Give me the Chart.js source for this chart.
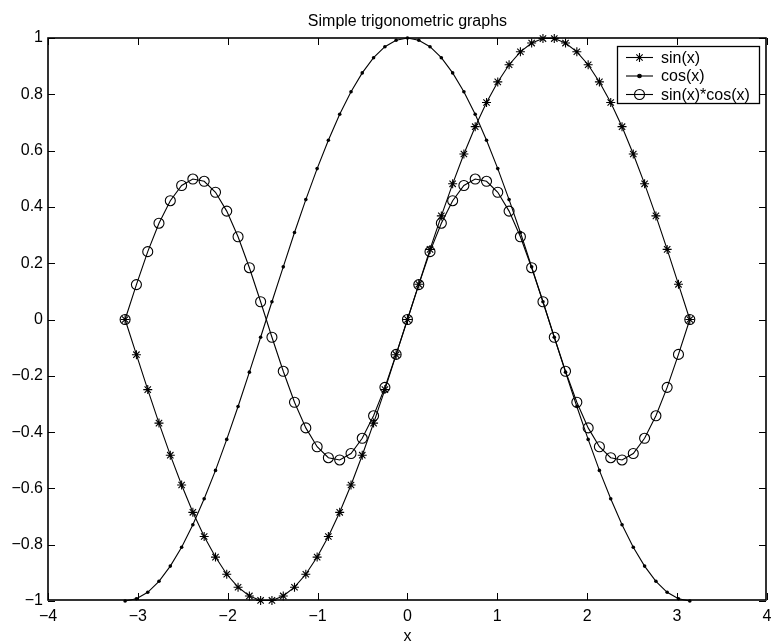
<!DOCTYPE html>
<html>
<head>
<meta charset="utf-8">
<script src="https://cdn.jsdelivr.net/npm/chart.js@4.4.0/dist/chart.umd.min.js"></script>
<style>
  html, body { margin: 0; padding: 0; background: #fff; }
  canvas { display: block; }
</style>
</head>
<body>
<canvas id="trigChart" width="773" height="641"></canvas>
<script>
// sample points, -pi..pi in 51 steps
const xVals = [-3.142,-3.016,-2.890,-2.765,-2.639,-2.513,-2.388,-2.262,-2.136,-2.011,-1.885,-1.759,-1.634,-1.508,-1.382,-1.257,-1.131,-1.005,-0.880,-0.754,-0.628,-0.503,-0.377,-0.251,-0.126,0,
  0.126,0.251,0.377,0.503,0.628,0.754,0.880,1.005,1.131,1.257,1.382,1.508,1.634,1.759,1.885,2.011,2.136,2.262,2.388,2.513,2.639,2.765,2.890,3.016,3.142];

const sinVals = [0,-0.125,-0.249,-0.368,-0.482,-0.588,-0.685,-0.771,-0.844,-0.905,-0.951,-0.982,-0.998,-0.998,-0.982,-0.951,-0.905,-0.844,-0.771,-0.685,-0.588,-0.482,-0.368,-0.249,-0.125,0,
  0.125,0.249,0.368,0.482,0.588,0.685,0.771,0.844,0.905,0.951,0.982,0.998,0.998,0.982,0.951,0.905,0.844,0.771,0.685,0.588,0.482,0.368,0.249,0.125,0];

const cosVals = [-1,-0.992,-0.969,-0.930,-0.876,-0.809,-0.729,-0.637,-0.536,-0.426,-0.309,-0.187,-0.063,0.063,0.187,0.309,0.426,0.536,0.637,0.729,0.809,0.876,0.930,0.969,0.992,1,
  0.992,0.969,0.930,0.876,0.809,0.729,0.637,0.536,0.426,0.309,0.187,0.063,-0.063,-0.187,-0.309,-0.426,-0.536,-0.637,-0.729,-0.809,-0.876,-0.930,-0.969,-0.992,-1];

const sinCosVals = [0,0.124,0.241,0.342,0.422,0.476,0.499,0.491,0.452,0.385,0.294,0.184,0.063,-0.063,-0.184,-0.294,-0.385,-0.452,-0.491,-0.499,-0.476,-0.422,-0.342,-0.241,-0.124,0,
  0.124,0.241,0.342,0.422,0.476,0.499,0.491,0.452,0.385,0.294,0.184,0.063,-0.063,-0.184,-0.294,-0.385,-0.452,-0.491,-0.499,-0.476,-0.422,-0.342,-0.241,-0.124,0];

const xTicks = [-4, -3, -2, -1, 0, 1, 2, 3, 4];
const yTicks = [-1, -0.8, -0.6, -0.4, -0.2, 0, 0.2, 0.4, 0.6, 0.8, 1];
const seriesNames = ['sin(x)', 'cos(x)', 'sin(x)*cos(x)'];
const chartTitle = 'Simple trigonometric graphs';
const xLabel = 'x';

const FONT = '"Liberation Sans", Arial, Helvetica, sans-serif';

function toPoints(ys) {
  return xVals.map((x, i) => ({ x: x, y: ys[i] }));
}

// matlab style minus sign on tick labels
function fmtTick(v) {
  const r = Math.round(v * 10) / 10;
  return r < 0 ? '\u2212' + String(-r) : String(r);
}

function drawMarker(ctx, style, radius, x, y, fill) {
  ctx.fillStyle = fill;
  if (Chart.helpers && Chart.helpers.drawPoint) {
    Chart.helpers.drawPoint(ctx, { pointStyle: style, radius: radius, rotation: 0, borderWidth: 1 }, x, y);
  }
}

// box, inward ticks, title and legend
const matlabFrame = {
  id: 'matlabFrame',
  afterDatasetsDraw(chart) {
    const { ctx, chartArea: a, scales: { x, y } } = chart;
    const L = Math.round(a.left), R = Math.round(a.right) - 1;
    const T = Math.round(a.top), B = Math.round(a.bottom) - 1;
    ctx.save();
    ctx.strokeStyle = '#000';
    ctx.lineWidth = 1;
    ctx.beginPath();
    x.ticks.forEach(t => {
      const px = Math.round(x.getPixelForValue(t.value)) + 0.5;
      ctx.moveTo(px, B); ctx.lineTo(px, B - 7);
      ctx.moveTo(px, T); ctx.lineTo(px, T + 7);
    });
    y.ticks.forEach(t => {
      const py = Math.round(y.getPixelForValue(t.value)) + 0.5;
      ctx.moveTo(L, py); ctx.lineTo(L + 7, py);
      ctx.moveTo(R, py); ctx.lineTo(R - 7, py);
    });
    ctx.stroke();
    ctx.lineWidth = 1.6;
    ctx.strokeRect(L, T, R - L, B - T);

    ctx.fillStyle = '#000';
    ctx.font = '16px ' + FONT;
    ctx.textAlign = 'center';
    ctx.textBaseline = 'alphabetic';
    ctx.fillText(chartTitle, (a.left + a.right) / 2, 26);

    // legend
    const bx = 617.5, by = 46.5, bw = 142, bh = 57;
    ctx.lineWidth = 1.3;
    ctx.fillStyle = '#fff';
    ctx.fillRect(bx, by, bw, bh);
    ctx.strokeRect(bx, by, bw, bh);
    ctx.lineWidth = 1.1;
    chart.data.datasets.forEach((ds, i) => {
      const ry = 57.5 + i * 18.5;
      ctx.beginPath();
      ctx.moveTo(626, ry); ctx.lineTo(653, ry);
      ctx.stroke();
      drawMarker(ctx, ds.pointStyle, ds.pointRadius, 639.5, ry, ds.pointBackgroundColor);
      ctx.fillStyle = '#000';
      ctx.textAlign = 'left';
      ctx.textBaseline = 'middle';
      ctx.fillText(seriesNames[i], 661, ry + 1);
    });
    ctx.restore();
  }
};

new Chart(document.getElementById('trigChart'), {
  type: 'line',
  data: {
    datasets: [
      {
        label: seriesNames[0],
        data: toPoints(sinVals),
        borderColor: '#000',
        borderWidth: 1.1,
        pointStyle: 'star',
        pointRadius: 4.5,
        pointBorderWidth: 1.1,
        pointBorderColor: '#000',
        pointBackgroundColor: 'rgba(0,0,0,0)',
        tension: 0,
        clip: false
      },
      {
        label: seriesNames[1],
        data: toPoints(cosVals),
        borderColor: '#000',
        borderWidth: 1.1,
        pointStyle: 'circle',
        pointRadius: 1.8,
        pointBorderWidth: 0,
        pointBorderColor: '#000',
        pointBackgroundColor: '#000',
        tension: 0,
        clip: false
      },
      {
        label: seriesNames[2],
        data: toPoints(sinCosVals),
        borderColor: '#000',
        borderWidth: 1.1,
        pointStyle: 'circle',
        pointRadius: 5,
        pointBorderWidth: 1.1,
        pointBorderColor: '#000',
        pointBackgroundColor: 'rgba(0,0,0,0)',
        tension: 0,
        clip: false
      }
    ]
  },
  options: {
    responsive: false,
    devicePixelRatio: 1,
    animation: false,
    events: [],
    layout: { padding: { top: 38, right: 6, bottom: 0, left: 0 } },
    plugins: {
      legend: { display: false },
      tooltip: { enabled: false },
      title: { display: false }
    },
    scales: {
      x: {
        type: 'linear',
        min: -4,
        max: 4,
        afterBuildTicks: s => { s.ticks = xTicks.map(v => ({ value: v })); },
        // fixed axis band; end labels may overhang the plot box
        afterFit: s => { s.height = 40; s.paddingLeft = 0; s.paddingRight = 0; },
        grid: { display: false, drawTicks: false },
        border: { display: false },
        ticks: {
          color: '#000',
          padding: 6,
          maxRotation: 0,
          font: { family: FONT, size: 16 },
          callback: v => fmtTick(v)
        },
        title: {
          display: true,
          text: xLabel,
          color: '#000',
          padding: 0,
          font: { family: FONT, size: 16, lineHeight: 0.6 }
        }
      },
      y: {
        type: 'linear',
        min: -1,
        max: 1,
        afterBuildTicks: s => { s.ticks = yTicks.map(v => ({ value: v })); },
        afterFit: s => { s.width = 48; },
        grid: { display: false, drawTicks: false },
        border: { display: false },
        ticks: {
          color: '#000',
          padding: 5,
          font: { family: FONT, size: 16 },
          callback: v => fmtTick(v)
        }
      }
    }
  },
  plugins: [matlabFrame]
});
</script>
</body>
</html>
